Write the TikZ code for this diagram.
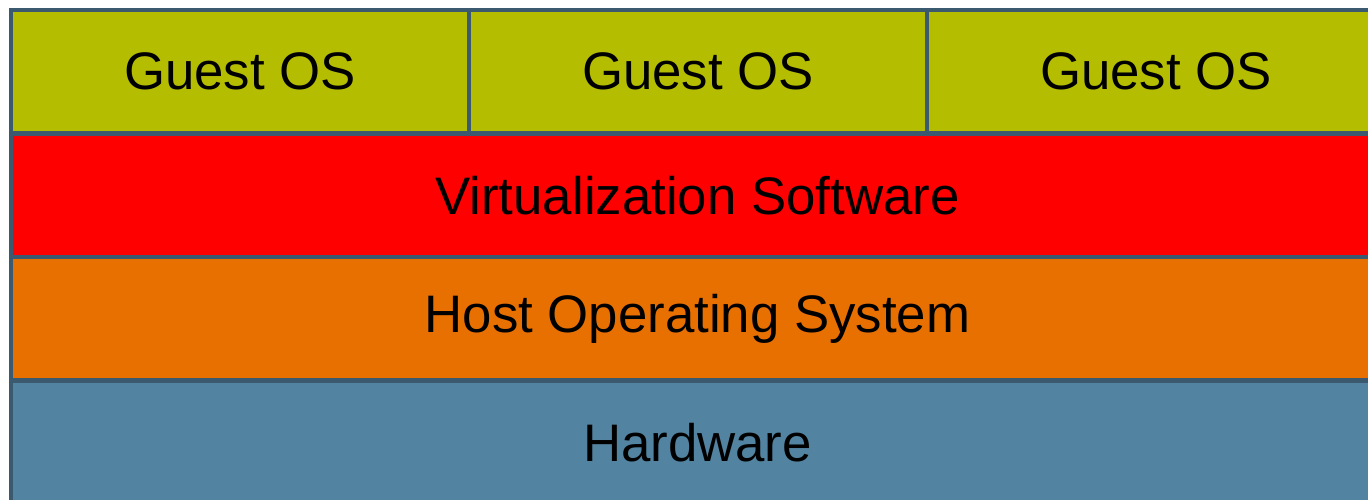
\documentclass[tikz,border=0pt]{standalone}
\usepackage{fontspec}
\setmainfont{Liberation Sans}
\usepackage{xcolor}
\usetikzlibrary{positioning}

\definecolor{guestgreen}{RGB}{181,189,0}
\definecolor{virtred}{RGB}{255,0,0}
\definecolor{hostorange}{RGB}{232,112,0}
\definecolor{hwblue}{RGB}{82,131,160}
\definecolor{edgeslate}{RGB}{59,90,112}

\begin{document}
\begin{tikzpicture}[
  x=1pt, y=1pt,
  layer/.style={rectangle, draw=edgeslate, line width=4.5pt, outer sep=0pt,
                inner sep=0pt, minimum height=123.5pt,
                font=\fontsize{52.8}{60}\selectfont},
  guest/.style={layer, fill=guestgreen, minimum width=458pt},
  wide/.style={layer, minimum width=1373pt}
]
\useasboundingbox (0,0) rectangle (1368,-499);
\clip (0,0) rectangle (1368,-499);

\node[guest, anchor=north west] (g1) at (11,-10) {Guest OS};
\node[guest, right=0pt of g1] (g2) {Guest OS};
\node[guest, right=0pt of g2] (g3) {Guest OS};
\node[wide, fill=virtred, below=0pt of g1.south west, anchor=north west] (virt) {Virtualization Software};
\node[wide, fill=hostorange, below=0pt of virt] (host) {Host Operating System};
\node[wide, fill=hwblue, below=0pt of host] (hw) {Hardware};
\end{tikzpicture}
\end{document}
